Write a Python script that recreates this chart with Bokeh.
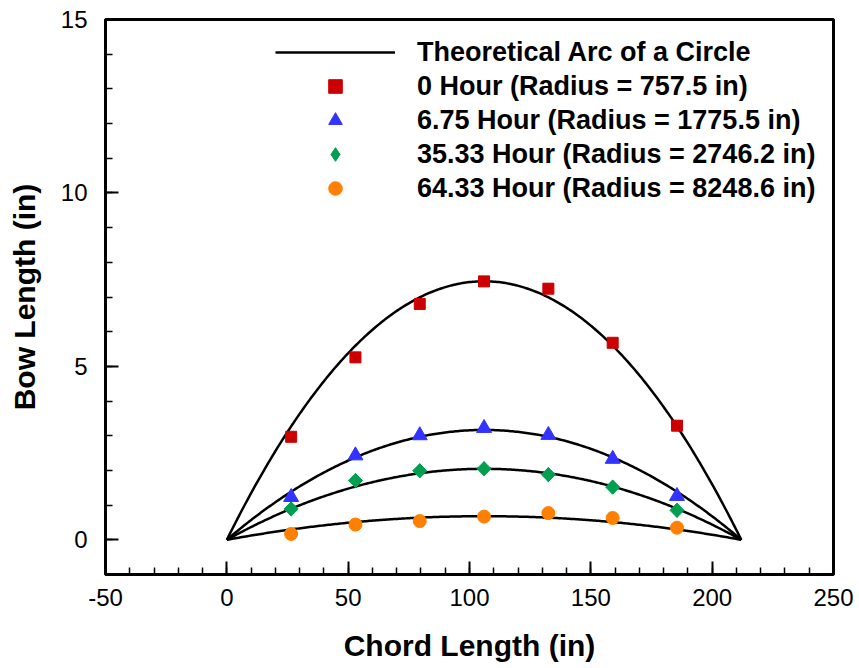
import numpy as np
from bokeh.plotting import figure
from bokeh.models import Legend, LegendItem, Range1d, FixedTicker, PrintfTickFormatter
from bokeh.embed import file_html
from bokeh.resources import INLINE

# ---- data ----
chord_length = 212.0
x_pts = [26.5, 53.0, 79.5, 106.0, 132.5, 159.0, 185.5]
bow_0h = [2.97, 5.26, 6.80, 7.45, 7.24, 5.68, 3.29]
bow_6_75h = [1.23, 2.43, 3.01, 3.22, 3.02, 2.33, 1.26]
bow_35_33h = [0.89, 1.71, 1.99, 2.05, 1.88, 1.52, 0.85]
bow_64_33h = [0.17, 0.44, 0.54, 0.67, 0.77, 0.63, 0.35]
radii = [757.5, 1775.5, 2746.2, 8248.6]
labels = ["0 Hour (Radius = 757.5 in)", "6.75 Hour (Radius = 1775.5 in)",
          "35.33 Hour (Radius = 2746.2 in)", "64.33 Hour (Radius = 8248.6 in)"]
x_ticks = [-50, 0, 50, 100, 150, 200, 250]
y_ticks = [0, 5, 10, 15]

FONT = "Liberation Sans"

p = figure(width=859, height=668, output_backend="svg", toolbar_location=None,
           x_range=Range1d(-50, 250), y_range=Range1d(-1, 15),
           min_border_left=105, min_border_right=26, min_border_top=19, min_border_bottom=94)
p.grid.visible = False
p.outline_line_color = "black"
p.outline_line_width = 3
p.background_fill_color = "white"
p.border_fill_color = "white"

# theoretical arcs of a circle through (0,0) and (chord,0)
arc_renderers = []
half = chord_length / 2.0
xs = np.linspace(0, chord_length, 300)
for R in radii:
    sag = R - np.sqrt(R**2 - half**2)
    ys = np.sqrt(R**2 - (xs - half)**2) - (R - sag)
    arc_renderers.append(p.line(xs, ys, line_color="black", line_width=2.5))

r_red = p.scatter(x_pts, bow_0h, marker="square", size=11, fill_color="#CC0000", line_color="#CC0000")
r_blue = p.scatter(x_pts, bow_6_75h, marker="triangle", size=15, fill_color="#3333FF", line_color="#3333FF")
# diamond renderer (used for the legend sample), covered by rotated squares
r_green = p.scatter(x_pts, bow_35_33h, marker="diamond", size=14, fill_color="#00A050", line_color="#00A050")
p.scatter(x_pts, bow_35_33h, marker="square", size=10, angle=np.pi / 4,
          fill_color="#00A050", line_color="#00A050")
r_orange = p.scatter(x_pts, bow_64_33h, marker="circle", size=13, fill_color="#FF8000", line_color="#FF8000")

for ax in (p.xaxis[0], p.yaxis[0]):
    ax.axis_line_width = 3
    ax.major_tick_in = 13
    ax.major_tick_out = 0
    ax.minor_tick_in = 7
    ax.minor_tick_out = 0
    ax.major_tick_line_width = 2
    ax.minor_tick_line_width = 1.5
    ax.major_label_text_font = FONT
    ax.major_label_text_font_size = "24px"
    ax.major_label_text_color = "black"
    ax.axis_label_text_font = FONT
    ax.axis_label_text_font_size = "30px"
    ax.axis_label_text_font_style = "bold"
    ax.axis_label_text_color = "black"
    ax.formatter = PrintfTickFormatter(format="%d")

p.xaxis.ticker = FixedTicker(ticks=x_ticks, minor_ticks=list(range(-50, 251, 10)))
p.yaxis.ticker = FixedTicker(ticks=y_ticks, minor_ticks=list(range(-1, 16, 1)))
p.xaxis.axis_label = "Chord Length (in)"
p.yaxis.axis_label = "Bow Length (in)"
p.xaxis.major_label_standoff = 14
p.xaxis.axis_label_standoff = 20
p.yaxis.major_label_standoff = 18
p.yaxis.axis_label_standoff = 17

legend = Legend(items=[
    LegendItem(label="Theoretical Arc of a Circle", renderers=[arc_renderers[0]]),
    LegendItem(label=labels[0], renderers=[r_red]),
    LegendItem(label=labels[1], renderers=[r_blue]),
    LegendItem(label=labels[2], renderers=[r_green]),
    LegendItem(label=labels[3], renderers=[r_orange]),
], location=(170, 369))
legend.padding = 0
legend.margin = 0
legend.spacing = 0
legend.border_line_color = None
legend.background_fill_alpha = 0
legend.glyph_width = 120
legend.glyph_height = 34
legend.label_height = 34
legend.label_standoff = 22
legend.label_text_font = FONT
legend.label_text_font_size = "27px"
legend.label_text_font_style = "bold"
legend.label_text_color = "black"
legend.label_text_baseline = "middle"
p.add_layout(legend, "center")

open("out.html", "w").write(file_html(p, INLINE))
